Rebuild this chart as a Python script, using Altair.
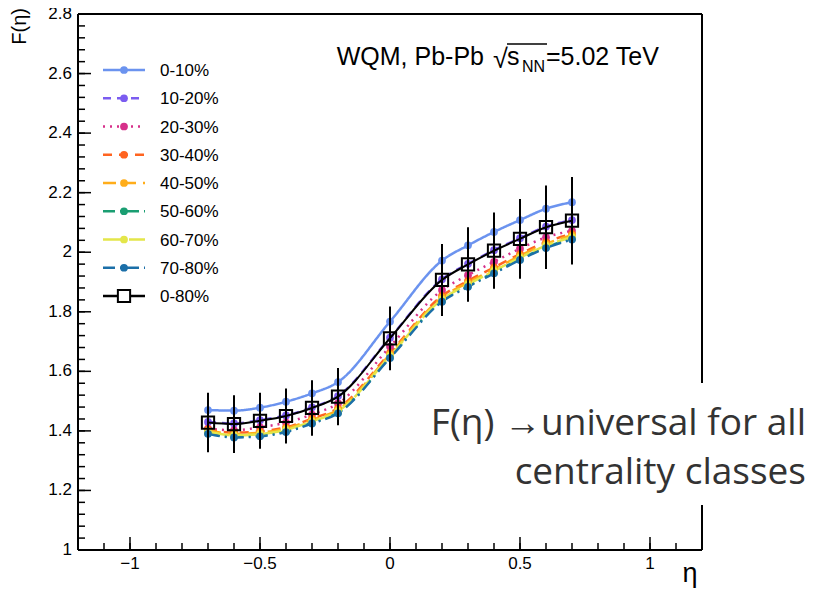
import altair as alt
import pandas as pd

# ---------------- data ----------------
eta = [-0.7, -0.6, -0.5, -0.4, -0.3, -0.2, 0.0, 0.2, 0.3, 0.4, 0.5, 0.6, 0.7]

series_names = ["0-10%", "10-20%", "20-30%", "30-40%", "40-50%",
                "50-60%", "60-70%", "70-80%"]
f_0_10  = [1.470, 1.468, 1.478, 1.498, 1.526, 1.564, 1.767, 1.972, 2.023, 2.068, 2.108, 2.146, 2.168]
f_10_20 = [1.430, 1.425, 1.436, 1.452, 1.479, 1.517, 1.713, 1.909, 1.961, 2.007, 2.047, 2.086, 2.108]
f_20_30 = [1.408, 1.402, 1.412, 1.428, 1.455, 1.492, 1.683, 1.873, 1.923, 1.968, 2.012, 2.050, 2.072]
f_30_40 = [1.405, 1.394, 1.398, 1.412, 1.441, 1.476, 1.662, 1.853, 1.904, 1.949, 1.994, 2.034, 2.062]
f_40_50 = [1.401, 1.390, 1.394, 1.408, 1.437, 1.471, 1.657, 1.848, 1.898, 1.943, 1.988, 2.028, 2.057]
f_50_60 = [1.393, 1.381, 1.385, 1.399, 1.428, 1.462, 1.648, 1.837, 1.887, 1.932, 1.977, 2.017, 2.046]
f_60_70 = [1.397, 1.385, 1.389, 1.403, 1.432, 1.466, 1.652, 1.842, 1.892, 1.937, 1.982, 2.022, 2.051]
f_70_80 = [1.390, 1.378, 1.382, 1.396, 1.425, 1.459, 1.645, 1.834, 1.884, 1.929, 1.974, 2.014, 2.043]
series_values = [f_0_10, f_10_20, f_20_30, f_30_40, f_40_50, f_50_60, f_60_70, f_70_80]

total_name = "0-80%"
f_0_80   = [1.428, 1.423, 1.434, 1.450, 1.477, 1.515, 1.711, 1.907, 1.959, 2.005, 2.045, 2.084, 2.106]
err_0_80 = [0.100, 0.097, 0.094, 0.092, 0.093, 0.096, 0.107, 0.121, 0.125, 0.128, 0.134, 0.140, 0.147]

y_major = [1.0, 1.2, 1.4, 1.6, 1.8, 2.0, 2.2, 2.4, 2.6, 2.8]
y_labels = ["1", "1.2", "1.4", "1.6", "1.8", "2", "2.2", "2.4", "2.6", "2.8"]
y_minor = [round(1.0 + 0.04 * i, 2) for i in range(46)]
x_major = [-1.0, -0.5, 0.0, 0.5, 1.0]
x_labels = ["\u22121", "\u22120.5", "0", "0.5", "1"]
x_minor = [round(-1.2 + 0.1 * i, 1) for i in range(25)]

x_title = "η"
y_title = "F(η)"
header_main = "WQM, Pb-Pb"
header_s = "s"
header_sub = "NN"
header_tail = "=5.02 TeV"
note_lines = ["F(η) →universal for all", "centrality classes"]

# ---------------- styles ----------------
colors = ["#6b93ef", "#7b5cf0", "#d6308a", "#ff6420", "#ffad1a",
          "#1a9e72", "#e4e64a", "#1b6fa8", "black"]
dashes = [[1, 0], [8, 6], [2, 5], [9, 7], [13, 7], [12, 5, 2, 5],
          [22, 4], [12, 5, 2, 5], [1, 0]]
all_names = series_names + [total_name]

W, H = 624, 536
FONT = "Liberation Sans"

rows = []
for name, vals in zip(series_names, series_values):
    for e, v in zip(eta, vals):
        rows.append({"series": name, "eta": e, "F": v})
df = pd.DataFrame(rows)
dft = pd.DataFrame({
    "eta": eta, "F": f_0_80,
    "lo": [f - e for f, e in zip(f_0_80, err_0_80)],
    "hi": [f + e for f, e in zip(f_0_80, err_0_80)],
})

xscale = alt.Scale(domain=[-1.2, 1.2], nice=False, zero=False)
yscale = alt.Scale(domain=[1.0, 2.8], nice=False, zero=False)
cscale = alt.Scale(domain=all_names, range=colors)
dscale = alt.Scale(domain=all_names, range=dashes)

X = alt.X("eta:Q", scale=xscale, axis=None)
Y = alt.Y("F:Q", scale=yscale, axis=None)
one = pd.DataFrame({"k": [0]})

lines = alt.Chart(df).mark_line(interpolate="monotone", strokeWidth=2.5).encode(
    x=X, y=Y,
    color=alt.Color("series:N", scale=cscale, legend=None),
    strokeDash=alt.StrokeDash("series:N", scale=dscale, legend=None),
    detail="series:N",
)
points = alt.Chart(df).mark_point(filled=True, shape="circle", size=60, opacity=1).encode(
    x=X, y=Y, color=alt.Color("series:N", scale=cscale, legend=None),
)
tline = alt.Chart(dft).mark_line(interpolate="monotone", strokeWidth=2, color="black").encode(x=X, y=Y)
terr = alt.Chart(dft).mark_rule(strokeWidth=2, color="black").encode(
    x=X, y=alt.Y("lo:Q", scale=yscale, axis=None), y2="hi:Q")
tsq = alt.Chart(dft).mark_point(shape="square", size=150, filled=False,
                                 stroke="black", strokeWidth=2, opacity=1).encode(x=X, y=Y)

# axes drawn by hand: inward ticks, labels, frame
ymaj = alt.Chart(pd.DataFrame({"v": y_major})).mark_rule(color="black", strokeWidth=1.5).encode(
    y=alt.Y("v:Q", scale=yscale, axis=None), x=alt.value(0), x2=alt.value(13))
ymin = alt.Chart(pd.DataFrame({"v": y_minor})).mark_rule(color="black", strokeWidth=1.5).encode(
    y=alt.Y("v:Q", scale=yscale, axis=None), x=alt.value(0), x2=alt.value(7))
xmaj = alt.Chart(pd.DataFrame({"v": x_major})).mark_rule(color="black", strokeWidth=1.5).encode(
    x=alt.X("v:Q", scale=xscale, axis=None), y=alt.value(H), y2=alt.value(H - 13))
xmin = alt.Chart(pd.DataFrame({"v": x_minor})).mark_rule(color="black", strokeWidth=1.5).encode(
    x=alt.X("v:Q", scale=xscale, axis=None), y=alt.value(H), y2=alt.value(H - 7))
ylab = alt.Chart(pd.DataFrame({"v": y_major, "t": y_labels})).mark_text(
    align="right", baseline="middle", font=FONT, fontSize=17, color="black").encode(
    y=alt.Y("v:Q", scale=yscale, axis=None), x=alt.value(-6), text="t:N")
xlab = alt.Chart(pd.DataFrame({"v": x_major, "t": x_labels})).mark_text(
    align="center", baseline="top", font=FONT, fontSize=17, color="black").encode(
    x=alt.X("v:Q", scale=xscale, axis=None), y=alt.value(H + 6), text="t:N")

fleft = alt.Chart(one).mark_rule(color="black", strokeWidth=2).encode(
    x=alt.value(0), y=alt.value(0), y2=alt.value(H))
fbottom = alt.Chart(one).mark_rule(color="black", strokeWidth=2).encode(
    x=alt.value(0), x2=alt.value(W), y=alt.value(H))
ftop = alt.Chart(one).mark_rule(color="black", strokeWidth=2).encode(
    x=alt.value(0), x2=alt.value(W), y=alt.value(0))
fright = alt.Chart(one).mark_rule(color="black", strokeWidth=2).encode(
    x=alt.value(W), y=alt.value(0), y2=alt.value(H))


def txt(t, x, y, size, align="left", font=FONT, color="black", angle=0, baseline="alphabetic"):
    return alt.Chart(pd.DataFrame({"t": [t]})).mark_text(
        align=align, baseline=baseline, font=font, fontSize=size, color=color, angle=angle
    ).encode(text="t:N", x=alt.value(x), y=alt.value(y))


ytit = txt(y_title, -58, -6, 20, align="right", angle=270, baseline="middle")
xtit = txt(x_title, 612, H + 32, 27, align="center")

# header
h1 = txt(header_main, 406, 51, 25, align="right")
hsq = txt("√", 415, 54, 27)
hbar = alt.Chart(one).mark_rule(color="black", strokeWidth=1.5).encode(
    x=alt.value(429), x2=alt.value(469), y=alt.value(30))
hs = txt(header_s, 429, 51, 25)
hsub = txt(header_sub, 444, 58, 16)
htail = txt(header_tail, 468, 51, 25)

# annotation box
box = alt.Chart(one).mark_rect(color="white").encode(
    x=alt.value(340), x2=alt.value(720), y=alt.value(369), y2=alt.value(491))
n1 = txt(note_lines[0], 728, 421, 37, align="right", font="Open Sans", color="#333333")
n2 = txt(note_lines[1], 728, 470, 37, align="right", font="Open Sans", color="#333333")

main = alt.layer(lines, points, tline, terr, tsq, ymin, ymaj, xmin, xmaj,
                 ylab, xlab, fleft, fbottom, ftop, fright, ytit, xtit,
                 box, n1, n2, h1, hsq, hbar, hs, hsub, htail)

# legend
leg = pd.DataFrame({"series": all_names})
lscale = alt.Scale(type="point", domain=all_names, range=[56, 282], padding=0)
LY = alt.Y("series:N", scale=lscale, axis=None)
lrule = alt.Chart(leg).mark_rule(strokeWidth=2.5).encode(
    x=alt.value(25), x2=alt.value(67), y=LY,
    color=alt.Color("series:N", scale=cscale, legend=None),
    strokeDash=alt.StrokeDash("series:N", scale=dscale, legend=None),
)
lpts = alt.Chart(leg).transform_filter(alt.datum.series != total_name).mark_point(
    filled=True, shape="circle", size=60, opacity=1).encode(
    x=alt.value(46), y=LY,
    color=alt.Color("series:N", scale=cscale, legend=None),
)
lsq = alt.Chart(leg).transform_filter(alt.datum.series == total_name).mark_point(
    shape="square", size=150, filled=True, fill="white", stroke="black",
    strokeWidth=2, opacity=1).encode(x=alt.value(46), y=LY)
ltxt = alt.Chart(leg).mark_text(align="left", baseline="middle", font=FONT,
                                fontSize=17, color="black", dy=1).encode(
    x=alt.value(82), y=LY, text="series:N")
legend = alt.layer(lrule, lpts, lsq, ltxt)

chart = alt.layer(main, legend).resolve_scale(y="independent").properties(
    width=W, height=H,
    autosize=alt.AutoSizeParams(type="none"),
    padding={"left": 70, "top": 6, "right": 104, "bottom": 39},
    background="white",
).configure_view(stroke=None)

chart.save("out.html", embed_options={"renderer": "svg", "actions": False})
